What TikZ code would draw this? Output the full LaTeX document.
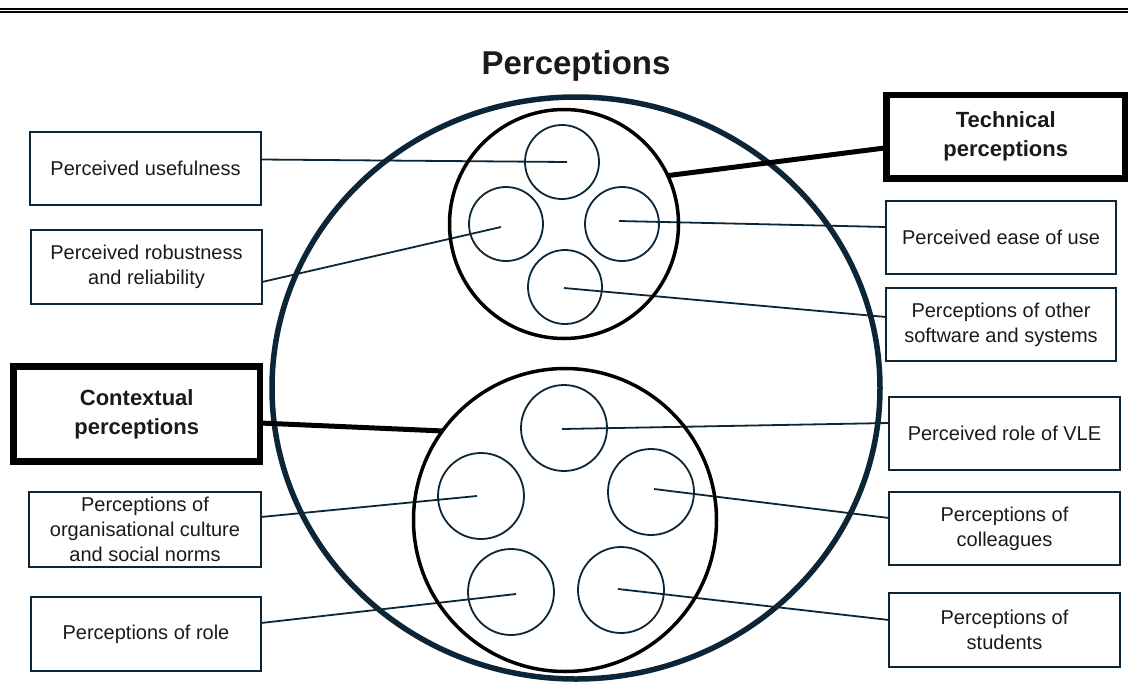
\documentclass[tikz,border=0pt]{standalone}
\usepackage{fontspec}
\setmainfont{Liberation Sans}
\usetikzlibrary{calc,backgrounds}
\definecolor{navy}{HTML}{0C2638}
\definecolor{ink}{HTML}{1A1A1A}

\tikzset{
  itembox/.style={draw=navy, line width=1.8pt, minimum width=231pt, minimum height=73pt,
    inner sep=0pt, outer sep=0pt, align=center, text=ink, font=\fontsize{20}{25}\selectfont},
  groupbox/.style={draw=black, line width=6.5pt, inner sep=0pt, outer sep=0pt, align=center,
    text=ink, font=\fontsize{22}{29}\selectfont\bfseries},
  ring/.style={circle, draw=black, line width=3.5pt, inner sep=0pt, outer sep=0pt},
  bubble/.style={circle, draw=navy, line width=1.8pt, inner sep=0pt, outer sep=0pt},
  conn/.style={draw=navy, line width=1.8pt},
  bigconn/.style={draw=black, line width=5pt},
}

\begin{document}
\begin{tikzpicture}[x=1pt, y=-1pt]
\useasboundingbox (0,0) rectangle (1128,686);

% double rule across the top
\draw[line width=2.4pt] (0,8.8) -- (1128,8.8);
\draw[line width=1.8pt] (0,12.2) -- (1128,12.2);

% title
\node[font=\fontsize{33}{36}\selectfont\bfseries, text=ink] (title) at (576,66) {Perceptions};

% outer boundary
\draw[navy, line width=5.5pt] (576,388) ellipse [x radius=304pt, y radius=291pt];

% technical group
\node[ring, minimum size=229pt] (tech) at (564,224) {};
\node[bubble, minimum size=74pt] (ta) at (562,162) {};
\node[bubble, minimum size=74pt] (tl) at (506,224) {};
\node[bubble, minimum size=74pt] (tr) at (622,224) {};
\node[bubble, minimum size=74pt] (tb) at (565,287) {};

% contextual group
\node[ring, minimum size=303pt] (ctx) at (565,520) {};
\node[bubble, minimum size=86pt] (ca) at (564,428) {};
\node[bubble, minimum size=86pt] (cl) at (481,496) {};
\node[bubble, minimum size=86pt] (cr) at (651,492) {};
\node[bubble, minimum size=86pt] (cbl) at (511,592) {};
\node[bubble, minimum size=86pt] (cbr) at (621,590) {};

% connector ends inside the bubbles
\coordinate (e1) at (567,162);
\coordinate (e2) at (501,227);
\coordinate (e3) at (619,221);
\coordinate (e4) at (564,288);
\coordinate (f1) at (562,429);
\coordinate (f2) at (477,496);
\coordinate (f3) at (654,489);
\coordinate (f4) at (516,594);
\coordinate (f5) at (618,589);

% left labels
\node[itembox, minimum width=231pt, minimum height=73pt] (pu) at (145.5,168.5) {Perceived usefulness};
\node[itembox, minimum width=231pt, minimum height=74pt] (pr) at (146.5,267) {Perceived robustness\\and reliability};
\node[groupbox, minimum width=246.5pt, minimum height=95pt] (cp) at (136.75,414) {Contextual\\perceptions};
\node[itembox, minimum width=232pt, minimum height=75pt] (po) at (145,529.5) {Perceptions of\\organisational culture\\and social norms};
\node[itembox, minimum width=230pt, minimum height=74pt] (pro) at (146,634) {Perceptions of role};

% right labels
\node[groupbox, minimum width=238.5pt, minimum height=83.5pt] (tp) at (1005.75,136.75) {Technical\\perceptions};
\node[itembox, minimum width=230pt, minimum height=73pt] (pe) at (1001,237.5) {Perceived ease of use};
\node[itembox, minimum width=230pt, minimum height=73pt] (ps) at (1001,324.5) {Perceptions of other\\software and systems};
\node[itembox, minimum width=231pt, minimum height=73pt] (pv) at (1004.5,433.5) {Perceived role of VLE};
\node[itembox, minimum width=231pt, minimum height=73pt] (pc) at (1004.5,528.5) {Perceptions of\\colleagues};
\node[itembox, minimum width=231pt, minimum height=74pt] (pst) at (1004.5,630) {Perceptions of\\students};

% connectors
\begin{pgfonlayer}{background}
\draw[conn] ([yshift=9pt]pu.east) -- (e1);
\draw[conn] ([yshift=-15pt]pr.east) -- (e2);
\draw[conn] ([yshift=12.5pt]po.east) -- (f2);
\draw[conn] ([yshift=11pt]pro.east) -- (f4);
\draw[conn] (e3) -- ([yshift=10.5pt]pe.west);
\draw[conn] (e4) -- ([yshift=7.5pt]ps.west);
\draw[conn] (f1) -- ([yshift=10.5pt]pv.west);
\draw[conn] (f3) -- ([yshift=10.5pt]pc.west);
\draw[conn] (f5) -- ([yshift=10pt]pst.west);
\end{pgfonlayer}
\draw[bigconn] ([yshift=-9pt]cp.east) -- (ctx.144);
\draw[bigconn] (tech.25) -- ([yshift=-11pt]tp.west);
\end{tikzpicture}
\end{document}
